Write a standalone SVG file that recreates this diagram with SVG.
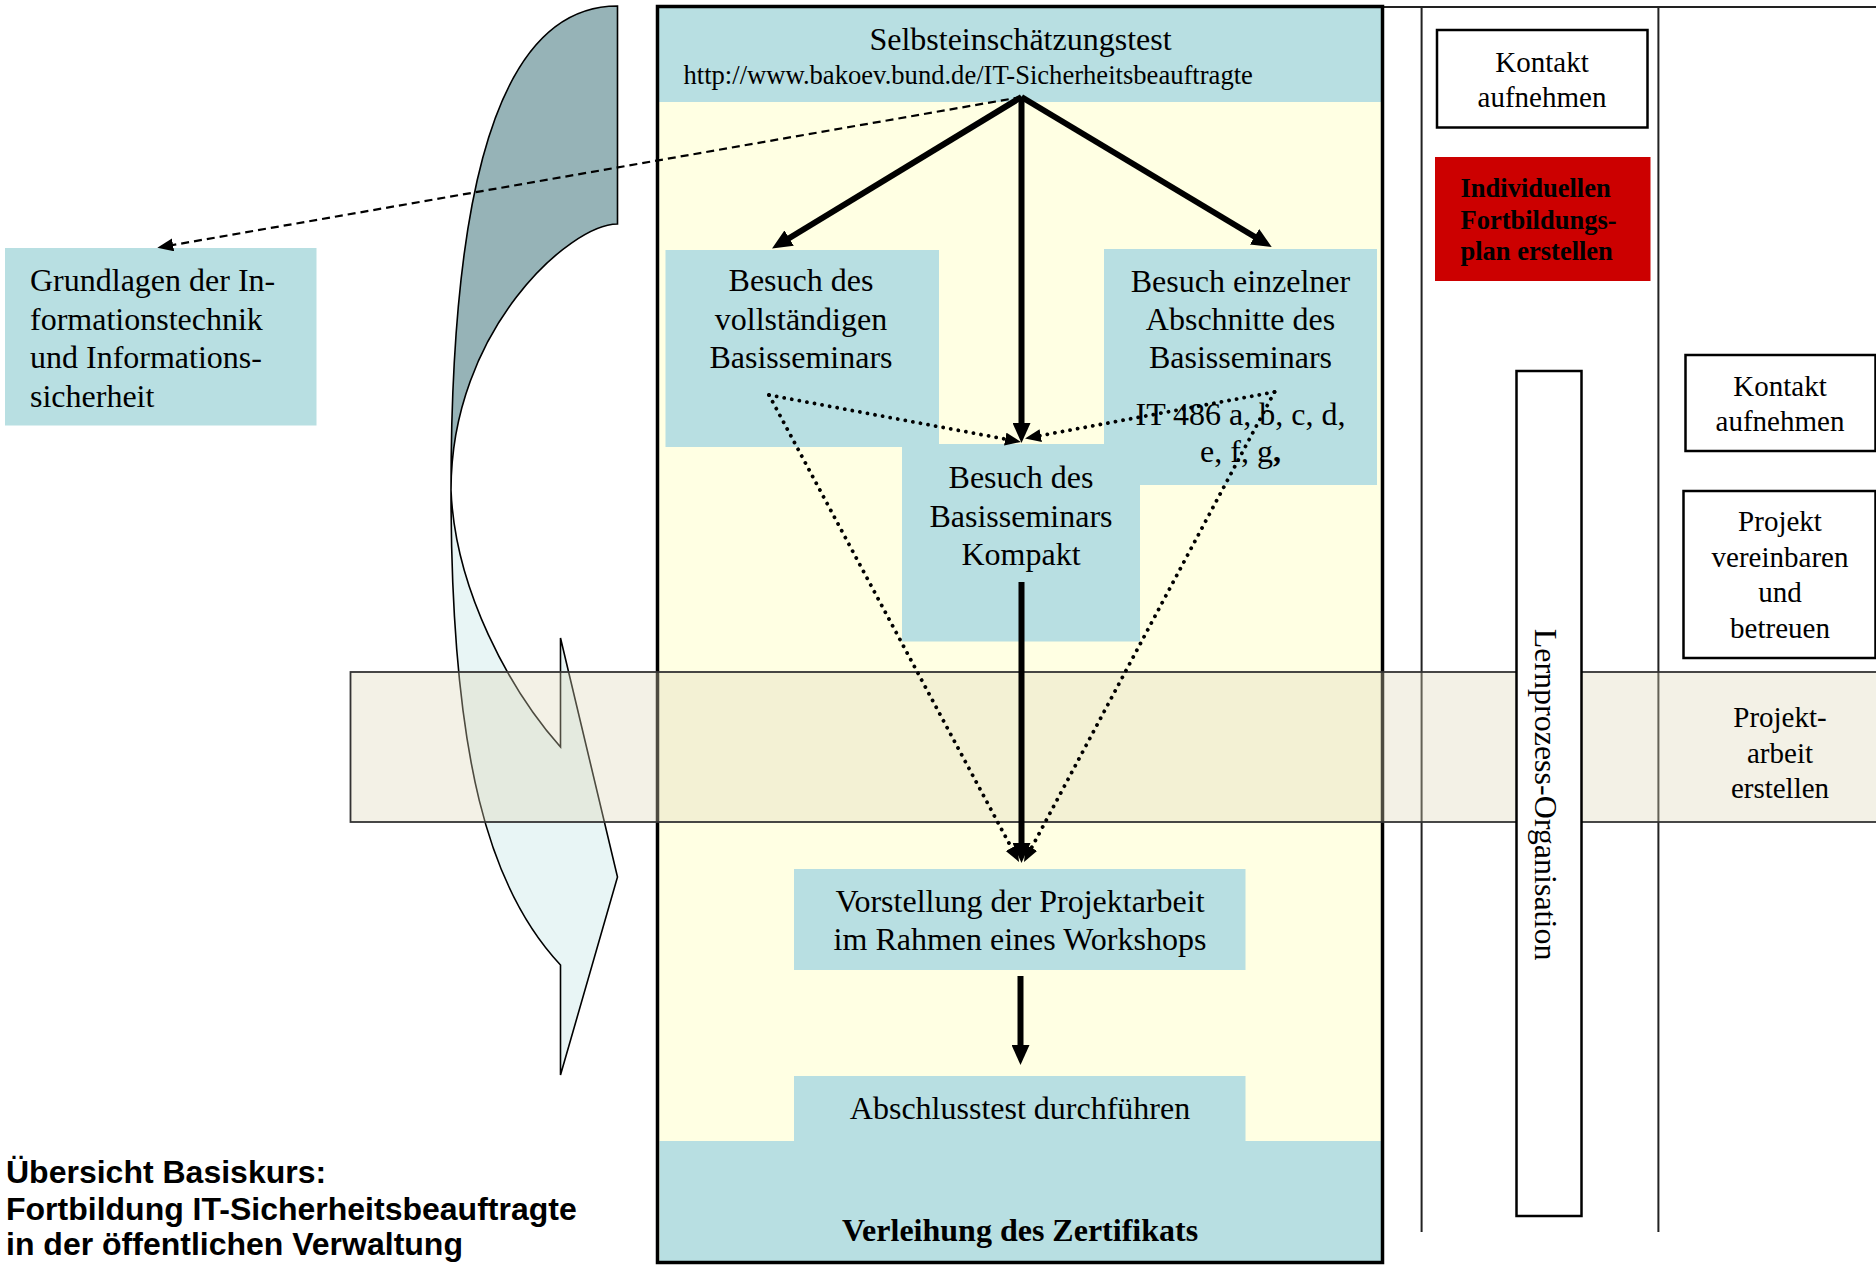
<svg xmlns="http://www.w3.org/2000/svg" width="1876" height="1266" viewBox="0 0 1876 1266">
<style>
.t{font-family:"Liberation Serif","Times New Roman",serif;font-size:32px;fill:#000}
.tc{text-anchor:middle}
.r{font-family:"Liberation Serif","Times New Roman",serif;font-size:29px;fill:#000;text-anchor:middle}
.blue{fill:#b8dfe2}
.wbox{fill:#fff;stroke:#000;stroke-width:2.5}
.grid{stroke:#222;stroke-width:2;fill:none}
.solid{stroke:#000;stroke-width:6;fill:none}
.dot{stroke:#000;stroke-width:3.8;fill:none;stroke-dasharray:0.1 7.6;stroke-linecap:round}
.dash{stroke:#000;stroke-width:2.2;fill:none;stroke-dasharray:8 5}
.title{font-family:"Liberation Sans",Arial,sans-serif;font-weight:bold;font-size:32px;fill:#000}
</style>
<defs>
<marker id="ah" markerUnits="userSpaceOnUse" markerWidth="22" markerHeight="18" refX="4" refY="9" orient="auto"><path d="M0,0 L20,9 L0,18 Z" fill="#000"/></marker>
<marker id="ahs" markerUnits="userSpaceOnUse" markerWidth="17" markerHeight="14" refX="3" refY="6.5" orient="auto"><path d="M0,0 L16,6.5 L0,13 Z" fill="#000"/></marker>
</defs>
<rect width="1876" height="1266" fill="#fff"/>

<!-- curved arrow -->
<g id="curved-arrow">
<path d="M617.5,6 C480,6 451,250 451,490 C451,330 570,224 617.5,224 Z" fill="#96b3b7" stroke="#000" stroke-width="1.6"/>
<path d="M451,490 C451,760 490,890 560.5,965 L560.5,1075 L617.5,877 L560.5,638 L560.5,747 C510,690 455,590 451,490 Z" fill="#e8f5f5" stroke="#000" stroke-width="1.6"/>
</g>

<!-- grid lines right -->
<g id="lanes">
<line class="grid" x1="1383" y1="7" x2="1876" y2="7"/>
<line class="grid" x1="1421.6" y1="6" x2="1421.6" y2="1232"/>
<line class="grid" x1="1658.4" y1="6" x2="1658.4" y2="1232"/>
</g>

<!-- main box -->
<g id="main-box">
<rect x="657.5" y="6.5" width="725" height="1256" fill="#ffffe3"/>
</g>

<g id="header">
<rect class="blue" x="659" y="8" width="722" height="94"/>
<text class="t tc" x="1020.5" y="50">Selbsteinschätzungstest</text>
<text class="t" x="683.5" y="84" style="font-size:26.6px">http://www.bakoev.bund.de/IT-Sicherheitsbeauftragte</text>
</g>

<g id="grundlagen">
<rect class="blue" x="5" y="248" width="311.5" height="177.5"/>
<text class="t" x="30" y="291">Grundlagen der In-</text>
<text class="t" x="30" y="329.5">formationstechnik</text>
<text class="t" x="30" y="368">und Informations-</text>
<text class="t" x="30" y="406.5">sicherheit</text>
</g>

<g id="vollstaendig">
<rect class="blue" x="665.5" y="250" width="273.5" height="197"/>
<text class="t tc" x="801" y="291">Besuch des</text>
<text class="t tc" x="801" y="330">vollständigen</text>
<text class="t tc" x="801" y="368">Basisseminars</text>
</g>

<g id="einzelner">
<rect class="blue" x="1104" y="249" width="273" height="236"/>
<text class="t tc" x="1240.5" y="292">Besuch einzelner</text>
<text class="t tc" x="1240.5" y="330">Abschnitte des</text>
<text class="t tc" x="1240.5" y="367.5">Basisseminars</text>
<text class="t tc" x="1240.5" y="425">IT 486 a, b, c, d,</text>
<text class="t tc" x="1240.5" y="462">e, f, g<tspan font-weight="bold">,</tspan></text>
</g>

<g id="kompakt">
<rect class="blue" x="902" y="444" width="238" height="197.5"/>
<text class="t tc" x="1021" y="488">Besuch des</text>
<text class="t tc" x="1021" y="526.5">Basisseminars</text>
<text class="t tc" x="1021" y="564.5">Kompakt</text>
</g>

<g id="vorstellung">
<rect class="blue" x="794" y="869" width="451.5" height="101"/>
<text class="t tc" x="1020" y="911.5">Vorstellung der Projektarbeit</text>
<text class="t tc" x="1020" y="950">im Rahmen eines Workshops</text>
</g>

<g id="abschluss">
<path class="blue" d="M794,1076 H1245.5 V1141 H1381 V1262 H659.5 V1141 H794 Z"/>
<text class="t tc" x="1020" y="1119">Abschlusstest durchführen</text>
<text class="t tc" x="1020" y="1240.5" font-weight="bold">Verleihung des Zertifikats</text>
</g>

<rect x="657.5" y="6.5" width="725" height="1256" fill="none" stroke="#000" stroke-width="3.5"/>

<!-- project band -->
<g id="projektarbeit-band">
<rect x="350.5" y="672" width="1530" height="150" fill="#ddd8b8" fill-opacity="0.35" stroke="#333" stroke-width="1.8"/>
<text class="r" x="1780" y="727">Projekt-</text>
<text class="r" x="1780" y="762.5">arbeit</text>
<text class="r" x="1780" y="797.5">erstellen</text>
</g>

<g id="kontakt1">
<rect class="wbox" x="1437" y="30" width="210.5" height="97.5"/>
<text class="r" x="1542" y="71.5">Kontakt</text>
<text class="r" x="1542" y="106.5">aufnehmen</text>
</g>

<g id="fortbildungsplan">
<rect x="1435" y="157" width="215.5" height="124" fill="#cc0000"/>
<text class="t" x="1460.5" y="196.5" style="font-size:26.5px;font-weight:bold">Individuellen</text>
<text class="t" x="1460.5" y="228.5" style="font-size:26.5px;font-weight:bold">Fortbildungs-</text>
<text class="t" x="1460.5" y="260" style="font-size:26.5px;font-weight:bold">plan erstellen</text>
</g>

<g id="lernprozess">
<rect class="wbox" x="1516.5" y="371" width="65" height="845"/>
<text class="t tc" transform="translate(1535,794.5) rotate(90)">Lernprozess-Organisation</text>
</g>

<g id="kontakt2">
<rect class="wbox" x="1685.5" y="355" width="190" height="96"/>
<text class="r" x="1780" y="396">Kontakt</text>
<text class="r" x="1780" y="431">aufnehmen</text>
</g>

<g id="projekt-vereinbaren">
<rect class="wbox" x="1683.5" y="491" width="192" height="167"/>
<text class="r" x="1780" y="531">Projekt</text>
<text class="r" x="1780" y="567">vereinbaren</text>
<text class="r" x="1780" y="602">und</text>
<text class="r" x="1780" y="637.5">betreuen</text>
</g>

<!-- connectors -->
<g id="connectors">
<line class="dash" x1="1021.5" y1="97" x2="170.1" y2="245.5" marker-end="url(#ahs)"/>
<line class="solid" x1="1021.5" y1="97" x2="785.7" y2="240.2" marker-end="url(#ah)"/>
<line class="solid" x1="1021.5" y1="97" x2="1258" y2="238.8" marker-end="url(#ah)"/>
<line class="solid" x1="1021.5" y1="97" x2="1021.5" y2="427" marker-end="url(#ah)"/>
<line class="solid" x1="1021.5" y1="582" x2="1021.5" y2="847" marker-end="url(#ah)"/>
<line class="solid" x1="1020.5" y1="976" x2="1020.5" y2="1049" stroke-width="5" marker-end="url(#ah)"/>
<line class="dot" x1="769" y1="395" x2="1008.2" y2="439.6" marker-end="url(#ahs)"/>
<line class="dot" x1="1274.5" y1="392" x2="1037.8" y2="436.1" marker-end="url(#ahs)"/>
<line class="dot" x1="769" y1="395" x2="1012.9" y2="850.5" marker-end="url(#ahs)"/>
<line class="dot" x1="1274.5" y1="392" x2="1030.1" y2="850.5" marker-end="url(#ahs)"/>
</g>

<g id="title">
<text class="title" x="6" y="1183">Übersicht Basiskurs:</text>
<text class="title" x="6" y="1220">Fortbildung IT-Sicherheitsbeauftragte</text>
<text class="title" x="6" y="1255">in der öffentlichen Verwaltung</text>
</g>
</svg>
